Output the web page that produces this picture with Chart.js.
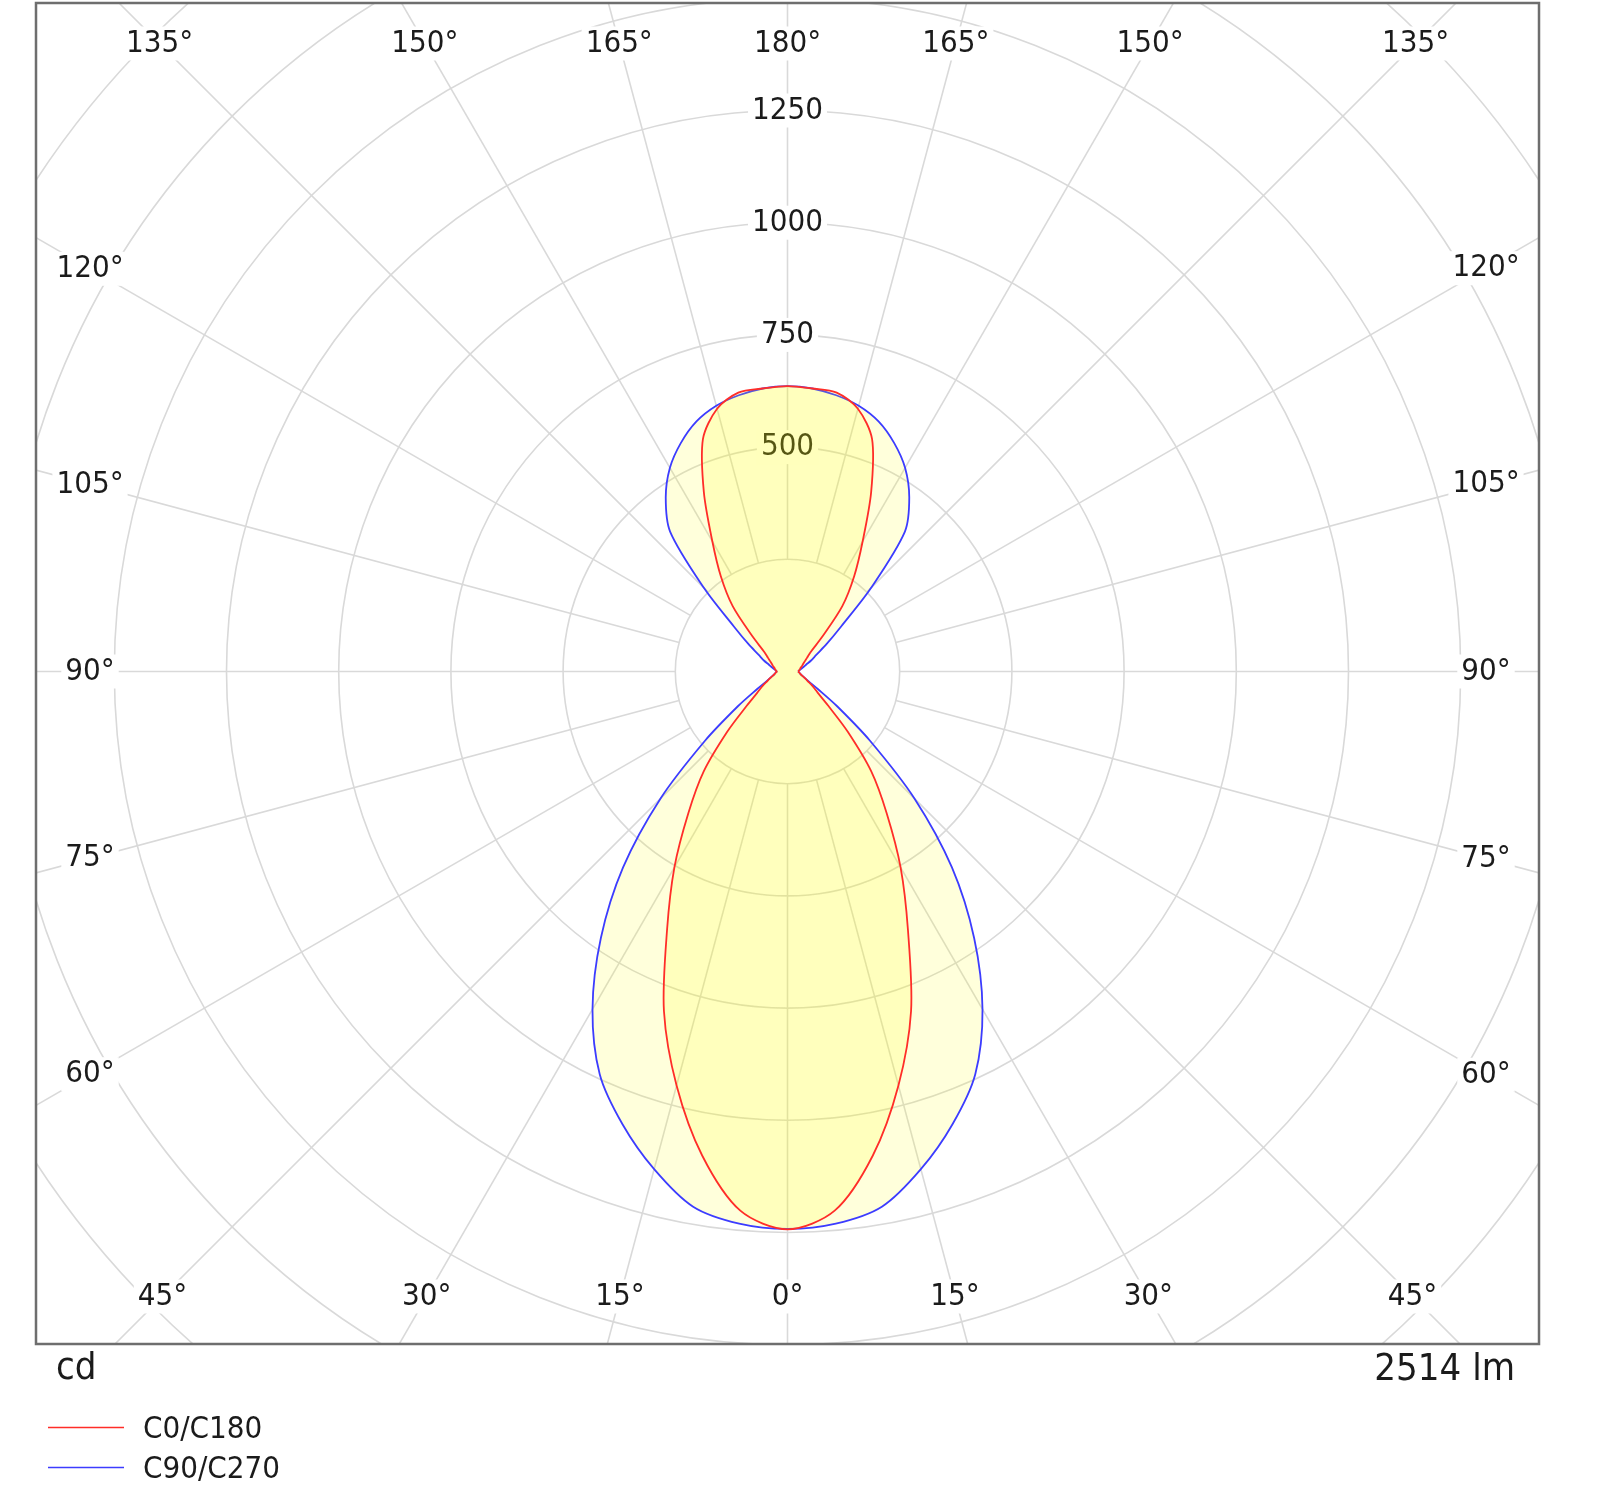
<!DOCTYPE html>
<html>
<head>
<meta charset="utf-8">
<script src="https://cdn.jsdelivr.net/npm/chart.js@4.4.1/dist/chart.umd.min.js"></script>
<style>
  html, body { margin: 0; padding: 0; background: #fff; }
  #wrap { width: 1600px; height: 1508px; }
</style>
</head>
<body>
<div id="wrap"><canvas id="polarChart" width="1600" height="1508"></canvas></div>
<script>
// gamma angle in degrees, 0 = straight down
const gammaAngles = [0, 5, 10, 15, 20, 25, 30, 35, 40, 45, 50, 55, 60, 65, 70, 75, 80, 85, 90,
  95, 100, 105, 110, 115, 120, 125, 130, 135, 140, 145, 150, 155, 160, 165, 170, 175, 180];

// luminous intensity, cd
const c0c180 = [1243, 1206, 1095, 955, 805, 635, 504, 385, 290, 190, 118, 82, 64, 49, 40, 33, 29, 26, 24,
  26, 28, 30, 34, 38, 44, 53, 67, 110, 190, 259, 335, 441, 551, 606, 631, 633, 636];
const c90c270 = [1242, 1235, 1211, 1148, 1074, 990, 869, 725, 570, 400, 240, 135, 78, 52, 40, 33, 29, 26, 24,
  26, 30, 36, 44, 58, 74, 106, 156, 263, 407, 473, 524, 562, 593, 613, 625, 633, 636];

const seriesNames = ['C0/C180', 'C90/C270'];
const ringValues = [250, 500, 750, 1000, 1250, 1500, 1750, 2000, 2250, 2500];
const ringLabels = [500, 750, 1000, 1250];
const angleTicks = [0, 15, 30, 45, 60, 75, 90, 105, 120, 135, 150, 165, 180];
const unitText = 'cd';
const fluxText = '2514 lm';

// layout (pixels)
const frame = { left: 36, top: 3, right: 1539, bottom: 1344 };
const centre = { x: 787.5, y: 671.5 };
const pxPerCd = 112.2 / 250;
const labelBox = { left: 90, right: 1486, top: 43.5, bottom: 1296.5 };
const FONT = '"DejaVu Sans Condensed", "DejaVu Sans", sans-serif';

function polarPoint(values, i, side) {
  const a = gammaAngles[i] * Math.PI / 180;
  return { x: side * values[i] * Math.sin(a), y: -values[i] * Math.cos(a) };
}

// closed outline: right half 90..180, left half 175..0, right half 5..90
function toCurve(values) {
  const n = gammaAngles.length;
  const mid = gammaAngles.indexOf(90);
  const pts = [];
  for (let i = mid; i < n; i++) pts.push(polarPoint(values, i, 1));
  for (let i = n - 2; i >= 0; i--) pts.push(polarPoint(values, i, -1));
  for (let i = 1; i <= mid; i++) pts.push(polarPoint(values, i, 1));
  return pts;
}

function labelAt(ctx, text, x, y) {
  const w = ctx.measureText(text).width;
  ctx.fillStyle = '#ffffff';
  ctx.fillRect(x - w / 2 - 4, y - 17, w + 8, 34);
  ctx.fillStyle = '#1b1b1b';
  ctx.fillText(text, x, y);
}

const polarGrid = {
  id: 'polarGrid',
  beforeDatasetsDraw(chart) {
    const { ctx, chartArea: a, scales: { x, y } } = chart;
    const ox = x.getPixelForValue(0), oy = y.getPixelForValue(0);
    const rad = v => x.getPixelForValue(v) - ox;
    ctx.save();
    ctx.beginPath();
    ctx.rect(a.left, a.top, a.right - a.left, a.bottom - a.top);
    ctx.clip();

    ctx.strokeStyle = '#d9d9d9';
    ctx.lineWidth = 1.6;
    ringValues.forEach(v => {
      ctx.beginPath();
      ctx.arc(ox, oy, rad(v), 0, 2 * Math.PI);
      ctx.stroke();
    });
    for (let d = 0; d < 360; d += 15) {
      const t = d * Math.PI / 180;
      const dx = Math.sin(t), dy = Math.cos(t);
      ctx.beginPath();
      ctx.moveTo(ox + dx * rad(ringValues[0]), oy + dy * rad(ringValues[0]));
      ctx.lineTo(ox + dx * rad(4000), oy + dy * rad(4000));
      ctx.stroke();
    }

    ctx.font = '31px ' + FONT;
    ctx.textAlign = 'center';
    ctx.textBaseline = 'middle';
    angleTicks.forEach(g => {
      const sides = (g === 0 || g === 180) ? [1] : [1, -1];
      sides.forEach(s => {
        const t = g * Math.PI / 180;
        const dx = s * Math.sin(t), dy = Math.cos(t);
        const hx = dx > 0 ? labelBox.right - ox : ox - labelBox.left;
        const vy = dy > 0 ? labelBox.bottom - oy : oy - labelBox.top;
        const k = Math.min(Math.abs(dx) > 1e-6 ? hx / Math.abs(dx) : Infinity,
                           Math.abs(dy) > 1e-6 ? vy / Math.abs(dy) : Infinity);
        labelAt(ctx, g + '°', ox + dx * k, oy + dy * k);
      });
    });
    ringLabels.forEach(v => labelAt(ctx, String(v), ox, oy - rad(v)));
    ctx.restore();
  },
  afterDraw(chart) {
    const { ctx, chartArea: a } = chart;
    ctx.save();
    ctx.strokeStyle = '#6e6e6e';
    ctx.lineWidth = 2.5;
    ctx.strokeRect(a.left, a.top, a.right - a.left, a.bottom - a.top);

    ctx.fillStyle = '#1b1b1b';
    ctx.textBaseline = 'alphabetic';
    ctx.font = '38px ' + FONT;
    ctx.textAlign = 'left';
    ctx.fillText(unitText, 56, 1379);
    ctx.textAlign = 'right';
    ctx.fillText(fluxText, 1515, 1380);

    ctx.font = '31px ' + FONT;
    ctx.textAlign = 'left';
    chart.data.datasets.forEach((ds, i) => {
      const ly = 1427.5 + i * 40;
      ctx.strokeStyle = ds.borderColor;
      ctx.lineWidth = 1.5;
      ctx.beginPath();
      ctx.moveTo(48, ly);
      ctx.lineTo(124, ly);
      ctx.stroke();
      ctx.fillStyle = '#1b1b1b';
      ctx.fillText(ds.label, 143, ly + 10);
    });
    ctx.restore();
  }
};

const ctx = document.getElementById('polarChart').getContext('2d');

new Chart(ctx, {
  type: 'scatter',
  data: {
    datasets: [
      {
        label: seriesNames[0],
        data: toCurve(c0c180),
        showLine: true,
        borderColor: 'rgb(255, 45, 40)',
        backgroundColor: 'rgba(255, 252, 0, 0.14)',
        borderWidth: 1.8,
        fill: 'shape',
        order: 0
      },
      {
        label: seriesNames[1],
        data: toCurve(c90c270),
        showLine: true,
        borderColor: 'rgb(60, 60, 255)',
        backgroundColor: 'rgba(255, 252, 0, 0.14)',
        borderWidth: 1.8,
        fill: 'shape',
        order: 1
      }
    ]
  },
  options: {
    responsive: false,
    devicePixelRatio: 1,
    animation: false,
    layout: {
      padding: { left: frame.left, top: frame.top, right: 1600 - frame.right, bottom: 1508 - frame.bottom }
    },
    scales: {
      x: { type: 'linear', display: false,
           min: (frame.left - centre.x) / pxPerCd, max: (frame.right - centre.x) / pxPerCd },
      y: { type: 'linear', display: false,
           min: -(frame.bottom - centre.y) / pxPerCd, max: (centre.y - frame.top) / pxPerCd }
    },
    elements: { point: { radius: 0, hoverRadius: 0 }, line: { tension: 0.3, capBezierPoints: false } },
    plugins: {
      legend: { display: false },
      tooltip: { enabled: false }
    }
  },
  plugins: [polarGrid]
});
</script>
</body>
</html>
